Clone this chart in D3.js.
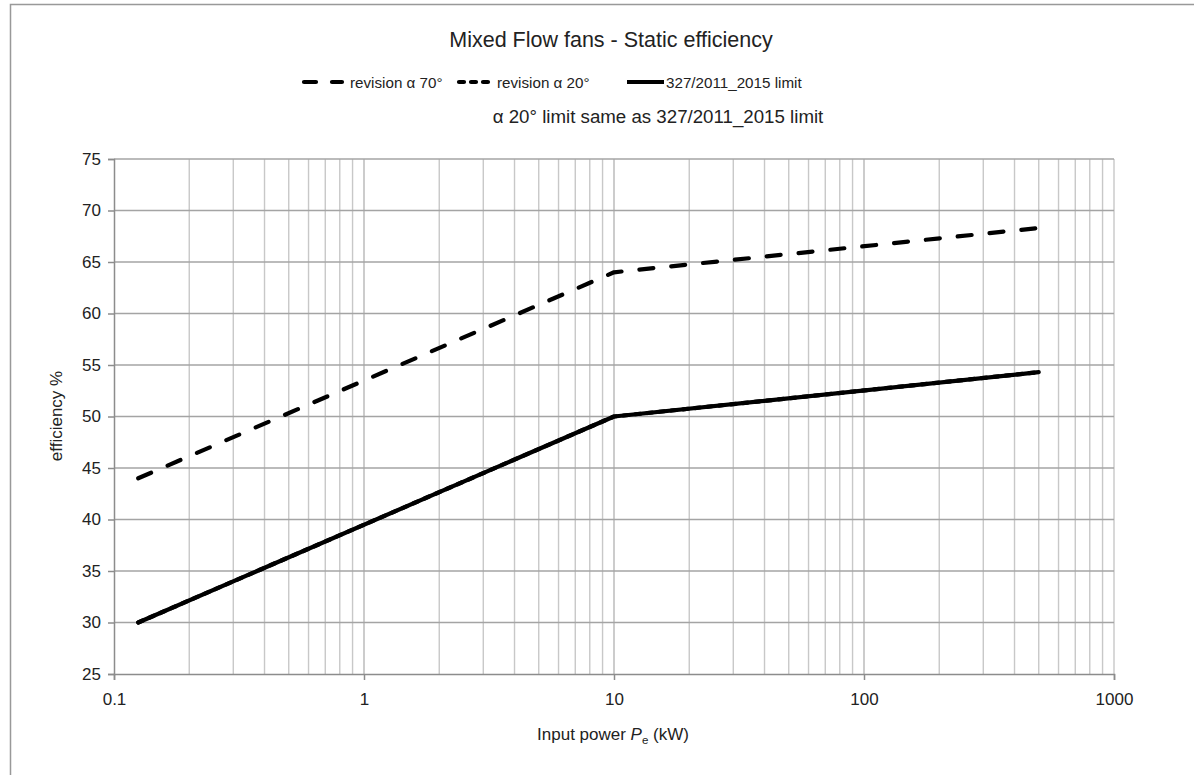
<!DOCTYPE html>
<html>
<head>
<meta charset="utf-8">
<script src="https://cdn.jsdelivr.net/npm/d3@7"></script>
<style>
  body { margin: 0; background: #fff; }
  svg text { font-family: "Liberation Sans", Arial, sans-serif; fill: #222; }
</style>
</head>
<body>
<svg id="chart" width="1194" height="775"></svg>
<script>
// input power (kW) at the break points of each curve
const power = [0.125, 10, 500];
const rev70 = [44, 64, 68.3];
const rev20 = [30, 50, 54.3];
const limit2015 = [30, 50, 54.3];

const xTicks = [0.1, 1, 10, 100, 1000];
const yTicks = [25, 30, 35, 40, 45, 50, 55, 60, 65, 70, 75];

const series = [
    { name: 'revision \u03b1 70\u00b0', values: rev70, dash: '14,18' },
    { name: 'revision \u03b1 20\u00b0', values: rev20, dash: '5,7' },
    { name: '327/2011_2015 limit', values: limit2015, dash: null }
];

const svg = d3.select('#chart');

// outer chart frame
svg.append('path')
    .attr('d', 'M10.5,775 V4.5 H1194')
    .attr('fill', 'none')
    .attr('stroke', '#999')
    .attr('stroke-width', 1.5);

const x = d3.scaleLog().domain([0.1, 1000]).range([114, 1114]);
const y = d3.scaleLinear().domain([25, 75]).range([674, 159]);

// vertical grid at every minor log tick
const minor = [];
for (let e = -1; e < 3; e++) {
    for (let k = 1; k <= 10; k++) minor.push(k * Math.pow(10, e));
}
svg.append('g')
    .selectAll('line')
    .data(minor.filter(v => v > 0.1))
    .enter()
    .append('line')
    .attr('x1', d => x(d)).attr('x2', d => x(d))
    .attr('y1', y(25)).attr('y2', y(75))
    .attr('stroke', '#c8c8c8')
    .attr('stroke-width', 1.4);

// horizontal grid
svg.append('g')
    .selectAll('line')
    .data(yTicks.filter(v => v > 25))
    .enter()
    .append('line')
    .attr('x1', x(0.1)).attr('x2', x(1000))
    .attr('y1', d => y(d)).attr('y2', d => y(d))
    .attr('stroke', '#a4a4a4')
    .attr('stroke-width', 1.4);

// axes
const xAxis = svg.append('g')
    .attr('transform', `translate(0,${y(25)})`)
    .call(d3.axisBottom(x).tickValues(xTicks).tickSize(6).tickPadding(13)
        .tickFormat(d => String(d)));
const yAxis = svg.append('g')
    .attr('transform', `translate(${x(0.1)},0)`)
    .call(d3.axisLeft(y).tickValues(yTicks).tickSize(6).tickPadding(7));

[xAxis, yAxis].forEach(ax => {
    ax.select('.domain').attr('stroke', '#8c8c8c').attr('stroke-width', 1.5);
    ax.selectAll('.tick line').attr('stroke', '#8c8c8c').attr('stroke-width', 1.5);
    ax.selectAll('.tick text')
        .attr('font-size', '17px')
        .attr('font-family', '"Liberation Sans", Arial, sans-serif')
        .attr('fill', '#222');
});

// curves
const line = d3.line()
    .x((d, i) => x(power[i]))
    .y(d => y(d));

svg.append('g')
    .selectAll('path')
    .data(series)
    .enter()
    .append('path')
    .attr('d', d => line(d.values))
    .attr('fill', 'none')
    .attr('stroke', '#000')
    .attr('stroke-width', 4.2)
    .attr('stroke-linecap', 'round')
    .attr('stroke-linejoin', 'round')
    .attr('stroke-dasharray', d => d.dash);

// title
svg.append('text')
    .attr('x', 611).attr('y', 47)
    .attr('text-anchor', 'middle')
    .attr('font-size', '21.5px')
    .text('Mixed Flow fans - Static efficiency');

// legend
const legendItems = [
    { s: series[0], x0: 304, x1: 342, tx: 350 },
    { s: series[1], x0: 459, x1: 489, tx: 497 },
    { s: series[2], x0: 627, x1: 664, tx: 666 }
];
const lg = svg.append('g').selectAll('g')
    .data(legendItems)
    .enter()
    .append('g');
lg.append('line')
    .attr('x1', d => d.x0).attr('x2', d => d.x1)
    .attr('y1', 82).attr('y2', 82)
    .attr('stroke', '#000')
    .attr('stroke-width', 4.2)
    .attr('stroke-linecap', d => d.s.dash ? 'round' : 'butt')
    .attr('stroke-dasharray', d => d.s.dash === '14,18' ? '12,16' : d.s.dash);
lg.append('text')
    .attr('x', d => d.tx).attr('y', 87.5)
    .attr('font-size', '15.2px')
    .text(d => d.s.name);

svg.append('text')
    .attr('x', 658).attr('y', 123)
    .attr('text-anchor', 'middle')
    .attr('font-size', '18.7px')
    .text('\u03b1 20\u00b0 limit same as 327/2011_2015 limit');

// axis titles
const xt = svg.append('text')
    .attr('x', 613).attr('y', 740)
    .attr('text-anchor', 'middle')
    .attr('font-size', '17px');
xt.append('tspan').text('Input power ');
xt.append('tspan').attr('font-style', 'italic').text('P');
xt.append('tspan').attr('font-size', '11.5px').attr('dy', 4).text('e');
xt.append('tspan').attr('dy', -4).text(' (kW)');

svg.append('text')
    .attr('transform', 'translate(62,416) rotate(-90)')
    .attr('text-anchor', 'middle')
    .attr('font-size', '17px')
    .text('efficiency %');
</script>
</body>
</html>
